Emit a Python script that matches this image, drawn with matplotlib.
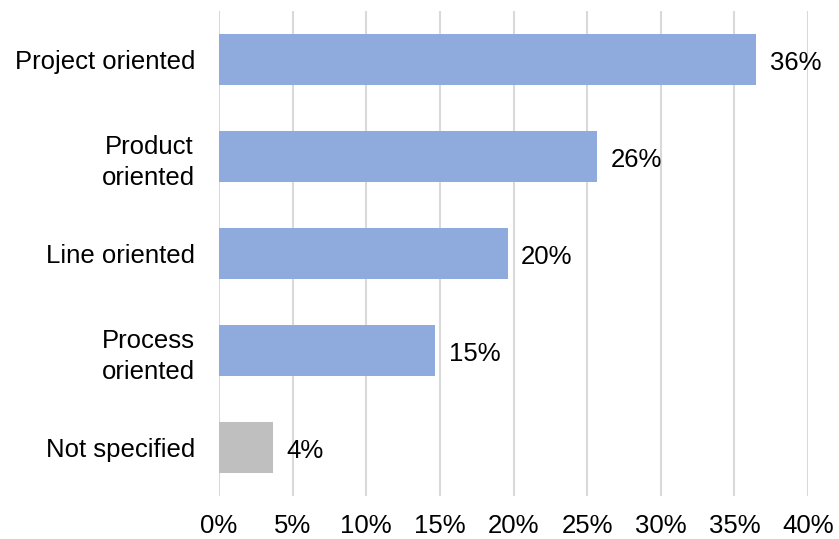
import matplotlib
matplotlib.use("Agg")
import matplotlib.pyplot as plt
from matplotlib.ticker import FuncFormatter

categories = ["Project oriented", "Product\noriented", "Line oriented", "Process\noriented", "Not specified"]
values = [36.5, 25.7, 19.6, 14.7, 3.7]
labels = ["36%", "26%", "20%", "15%", "4%"]
colors = ["#8FAADC", "#8FAADC", "#8FAADC", "#8FAADC", "#BFBFBF"]
xticks = [0, 5, 10, 15, 20, 25, 30, 35, 40]

plt.rcParams['font.family'] = ['Liberation Sans', 'DejaVu Sans']
FS = 18.5

fig = plt.figure(figsize=(8.39, 5.39), dpi=100)
ax = fig.add_axes([219/839, 1 - 496/539, (808-219)/839, (496-11)/539])

ypos = list(range(len(categories)))
ax.barh(ypos, values, height=0.52, color=colors, zorder=3)
for y, v, l in zip(ypos, values, labels):
    ax.text(v + 0.9, y + 0.04, l, va='center', ha='left', fontsize=FS, color='#000000')

ax.set_ylim(len(categories) - 0.5, -0.5)
ax.set_xlim(0, 40)
ax.set_xticks(xticks)
ax.xaxis.set_major_formatter(FuncFormatter(lambda x, p: f"{int(x)}%"))
ax.set_yticks(ypos)
ax.set_yticklabels(categories, fontsize=FS, multialignment='center', linespacing=1.35)
ax.tick_params(axis='x', labelsize=FS, length=0, pad=13)
ax.tick_params(axis='y', length=0, pad=17)
ax.grid(axis='x', color='#D9D9D9', linewidth=1.5, zorder=0)
for s in ax.spines.values():
    s.set_visible(False)

fig.savefig("out.png", dpi=100)
